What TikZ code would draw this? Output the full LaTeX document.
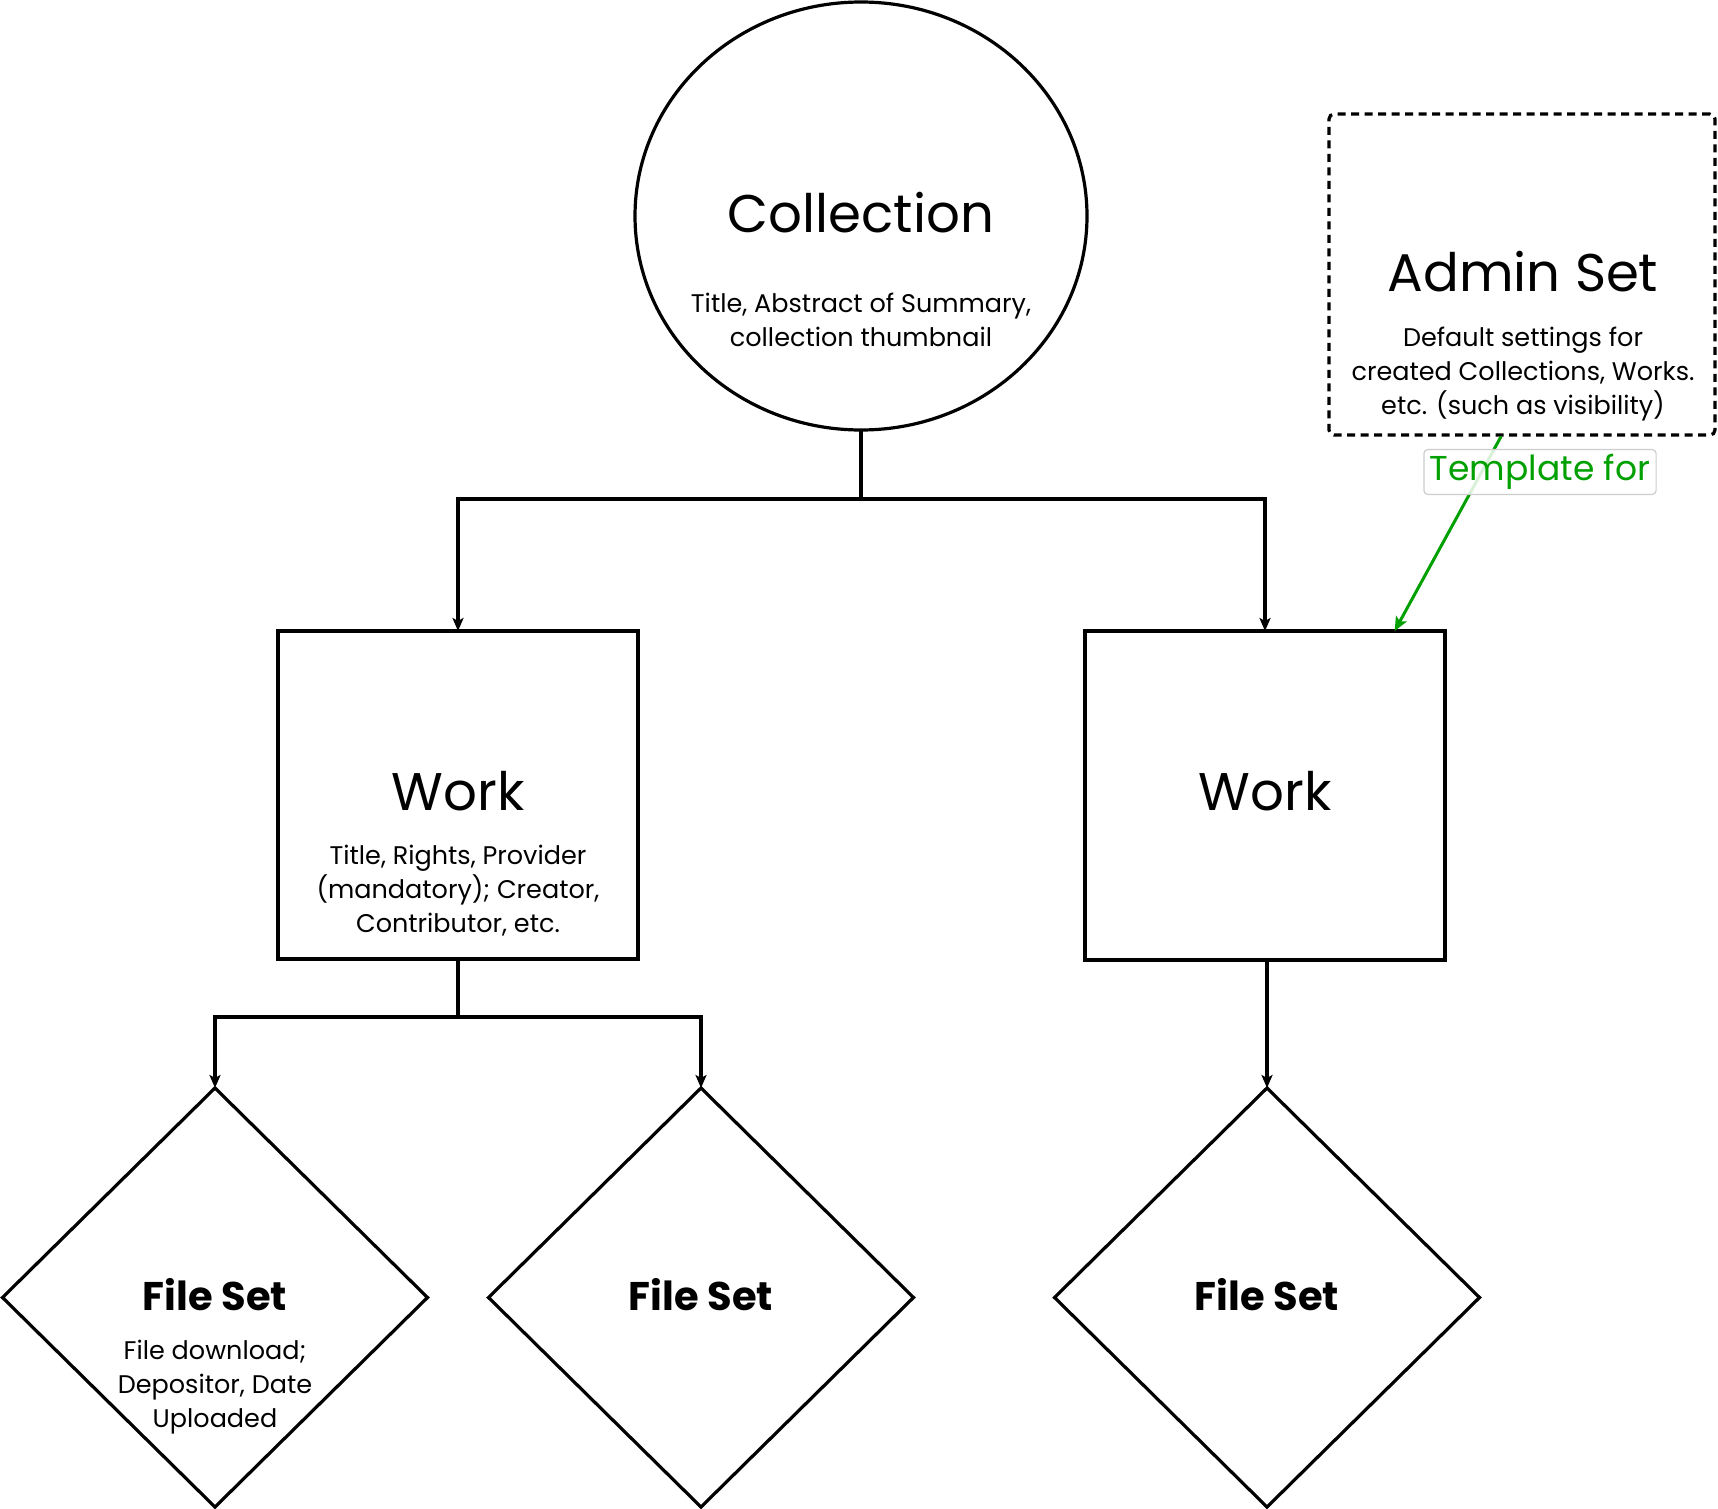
\documentclass[tikz,border=0pt]{standalone}
\usepackage{fontspec}
\setmainfont{Poppins}
\usetikzlibrary{shapes.geometric,arrows.meta,calc}
\definecolor{tgreen}{RGB}{0,160,0}
\definecolor{lgray}{RGB}{205,205,205}
\tikzset{
  line/.style={line width=3.2pt,draw=black},
  arr/.style={line/.try,-{Stealth[length=13pt,width=11pt,inset=3pt]}},
  shapebox/.style={line, inner sep=0pt, outer sep=0pt},
  bigtitle/.style={font=\fontsize{53}{60}\selectfont, inner sep=0pt},
  fstitle/.style={font=\fontsize{40}{46}\selectfont\bfseries, inner sep=0pt},
  smalltext/.style={font=\fontsize{25.5}{34}\selectfont, align=center, inner sep=0pt},
}
\begin{document}
\begin{tikzpicture}[x=1pt,y=-1pt]
\useasboundingbox (0,0) rectangle (1718,1509);
% shapes
\node[shapebox, ellipse, minimum width=452pt, minimum height=428pt] (coll) at (861,216) {};
\node[shapebox, rectangle, minimum width=360pt, minimum height=328pt] (w1) at (458,795) {};
\node[shapebox, rectangle, minimum width=360pt, minimum height=329pt] (w2) at (1265,795.5) {};
\node[shapebox, diamond, minimum width=425pt, minimum height=419pt] (f1) at (215,1297.5) {};
\node[shapebox, diamond, minimum width=425pt, minimum height=419pt] (f2) at (701,1297.5) {};
\node[shapebox, diamond, minimum width=425pt, minimum height=419pt] (f3) at (1267,1297.5) {};
\node[line, dash pattern=on 8pt off 5.5pt, rectangle, rounded corners=5pt, minimum width=386pt, minimum height=321pt, inner sep=0pt] (admin) at (1522,274.5) {};
% texts
\node[bigtitle] (tcoll) at (861,213) {Collection};
\node[smalltext] (dcoll) at (861,320) {Title, Abstract of Summary,\\collection thumbnail};
\node[bigtitle] (tadmin) at (1523,272) {Admin Set};
\node[smalltext] (dadmin) at (1523,374.5) {Default settings for\\created Collections, Works.\\etc. (such as visibility)};
\node[bigtitle] (tw1) at (458,791) {Work};
\node[smalltext] (dw1) at (458,891) {Title, Rights, Provider\\(mandatory); Creator,\\Contributor, etc.};
\node[bigtitle] (tw2) at (1265,791) {Work};
\node[fstitle] (tf1) at (215,1295) {File Set};
\node[smalltext] (df1) at (215,1387) {File download;\\Depositor, Date\\Uploaded};
\node[fstitle] (tf2) at (701,1295) {File Set};
\node[fstitle] (tf3) at (1267,1295) {File Set};
% connectors
\coordinate (j1) at ($(coll.south)+(0,69)$);
\coordinate (j2) at ($(w1.south)+(0,58)$);
\draw[line] (coll.south) -- (j1);
\draw[arr] (j1) -| (w1.north);
\draw[arr] (j1) -| (w2.north);
\draw[line] (w1.south) -- (j2);
\draw[arr] (j2) -| (f1.north);
\draw[arr] (j2) -| (f2.north);
\draw[arr] (w2.south -| f3.north) -- (f3.north);
% template arrow
\coordinate (ga) at ($(admin.south west)!0.446!(admin.south east)$);
\coordinate (gb) at ($(w2.north west)!0.86!(w2.north east)$);
\draw[line width=3pt, draw=tgreen, -{Stealth[length=14pt,width=12pt,inset=3pt]}] (ga) -- (gb);
\node[draw=lgray, line width=1.2pt, rounded corners=4pt, fill=white, fill opacity=0.85, text opacity=1, text=tgreen, font=\fontsize{34.5}{40}\selectfont, inner xsep=6pt, inner ysep=3pt, minimum height=45pt] (tmpl) at (1540,472) {Template for};
\end{tikzpicture}
\end{document}
